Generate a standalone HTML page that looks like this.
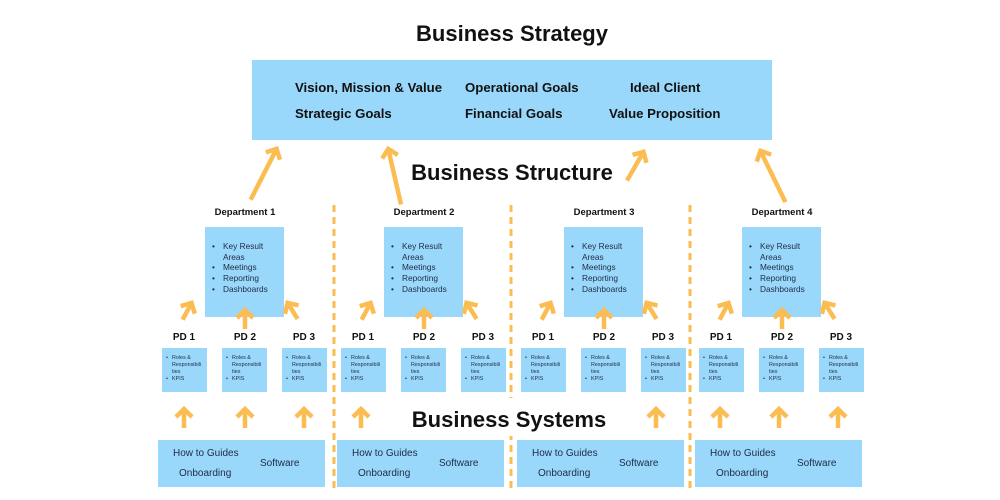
<!DOCTYPE html>
<html><head><meta charset="utf-8"><style>
html,body{margin:0;padding:0;background:#fff;width:1000px;height:500px;overflow:hidden}
svg{display:block;font-family:"Liberation Sans",sans-serif}
.t{font-weight:bold;fill:#111}
.d{fill:#1f2a44}
</style></head><body>
<svg width="1000" height="500" viewBox="0 0 1000 500">
<defs>
<g id="head"><polyline points="-8,9 0,1 8,9" fill="none" stroke="#fbbd52" stroke-width="4.5" stroke-linejoin="miter"/></g>
<g id="arrowU"><line x1="0" y1="20" x2="0" y2="3" stroke="#fbbd52" stroke-width="4.5"/><use href="#head"/></g>
<g id="arrowL"><line x1="0" y1="58" x2="0" y2="3" stroke="#fbbd52" stroke-width="4.5"/><use href="#head"/></g>
<g id="arrowM"><line x1="0" y1="34" x2="0" y2="3" stroke="#fbbd52" stroke-width="4.5"/><use href="#head"/></g>
<g id="col">
  <rect x="47" y="227" width="79" height="90" fill="#99d8fb"/>
  <g class="d" font-size="8.3">
    <text x="54" y="249">•</text><text x="65" y="249">Key Result</text>
    <text x="65" y="260">Areas</text>
    <text x="54" y="270">•</text><text x="65" y="270">Meetings</text>
    <text x="54" y="281">•</text><text x="65" y="281">Reporting</text>
    <text x="54" y="292">•</text><text x="65" y="292">Dashboards</text>
  </g>
  <use href="#arrowU" transform="translate(34,302) rotate(28)"/>
  <use href="#arrowU" transform="translate(87,309)"/>
  <use href="#arrowU" transform="translate(129,302) rotate(-32)"/>
  <g class="t" font-size="10" text-anchor="middle">
    <text x="26" y="340">PD 1</text><text x="87" y="340">PD 2</text><text x="146" y="340">PD 3</text>
  </g>
  <g id="pd">
    <rect x="4" y="348" width="45" height="44" fill="#99d8fb"/>
    <g class="d" font-size="5.4"><text x="8" y="359">•</text><text x="14" y="359">Roles &amp;</text><text x="14" y="366">Responsibili</text><text x="14" y="373">ties</text><text x="8" y="380">•</text><text x="14" y="380">KPIS</text></g>
  </g>
  <use href="#pd" x="60"/><use href="#pd" x="120"/>
  <rect x="0" y="440" width="167" height="47" fill="#99d8fb"/>
  <g class="d" font-size="10">
    <text x="15" y="456">How to Guides</text>
    <text x="21" y="476">Onboarding</text>
    <text x="102" y="466">Software</text>
  </g>
</g>
<g id="dash"><line x1="0" y1="205" x2="0" y2="490" stroke="#fbbd52" stroke-width="3" stroke-dasharray="7,5"/></g>
</defs>

<text x="512" y="41" text-anchor="middle" class="t" font-size="22">Business Strategy</text>
<rect x="252" y="60" width="520" height="80" fill="#99d8fb"/>
<g class="t" font-size="13.2" fill="#1a2238">
<text x="295" y="92">Vision, Mission &amp; Value</text>
<text x="465" y="92">Operational Goals</text>
<text x="630" y="92">Ideal Client</text>
<text x="295" y="118">Strategic Goals</text>
<text x="465" y="118">Financial Goals</text>
<text x="609" y="118">Value Proposition</text>
</g>
<text x="512" y="180" text-anchor="middle" class="t" font-size="22">Business Structure</text>

<use href="#arrowL" transform="translate(277,148) rotate(27)"/>
<use href="#arrowL" transform="translate(388,148) rotate(-13)"/>
<use href="#arrowM" transform="translate(644,151) rotate(30)"/>
<use href="#arrowL" transform="translate(760,150) rotate(-26)"/>

<use href="#dash" x="334"/><use href="#dash" x="511"/><use href="#dash" x="690"/>

<use href="#col" transform="translate(158,0)"/>
<use href="#col" transform="translate(337,0)"/>
<use href="#col" transform="translate(517,0)"/>
<use href="#col" transform="translate(695,0)"/>
<g class="t" font-size="9.5" text-anchor="middle">
<text x="245" y="215">Department 1</text>
<text x="424" y="215">Department 2</text>
<text x="604" y="215">Department 3</text>
<text x="782" y="215">Department 4</text>
</g>

<use href="#arrowU" transform="translate(184,408)"/><use href="#arrowU" transform="translate(245,408)"/><use href="#arrowU" transform="translate(304,408)"/>
<use href="#arrowU" transform="translate(361,408)"/>
<use href="#arrowU" transform="translate(656,408)"/>
<use href="#arrowU" transform="translate(720,408)"/><use href="#arrowU" transform="translate(779,408)"/><use href="#arrowU" transform="translate(838,408)"/>

<rect x="404" y="398" width="210" height="38" fill="#fff"/>
<text x="509" y="427" text-anchor="middle" class="t" font-size="22">Business Systems</text>
</svg>
</body></html>
